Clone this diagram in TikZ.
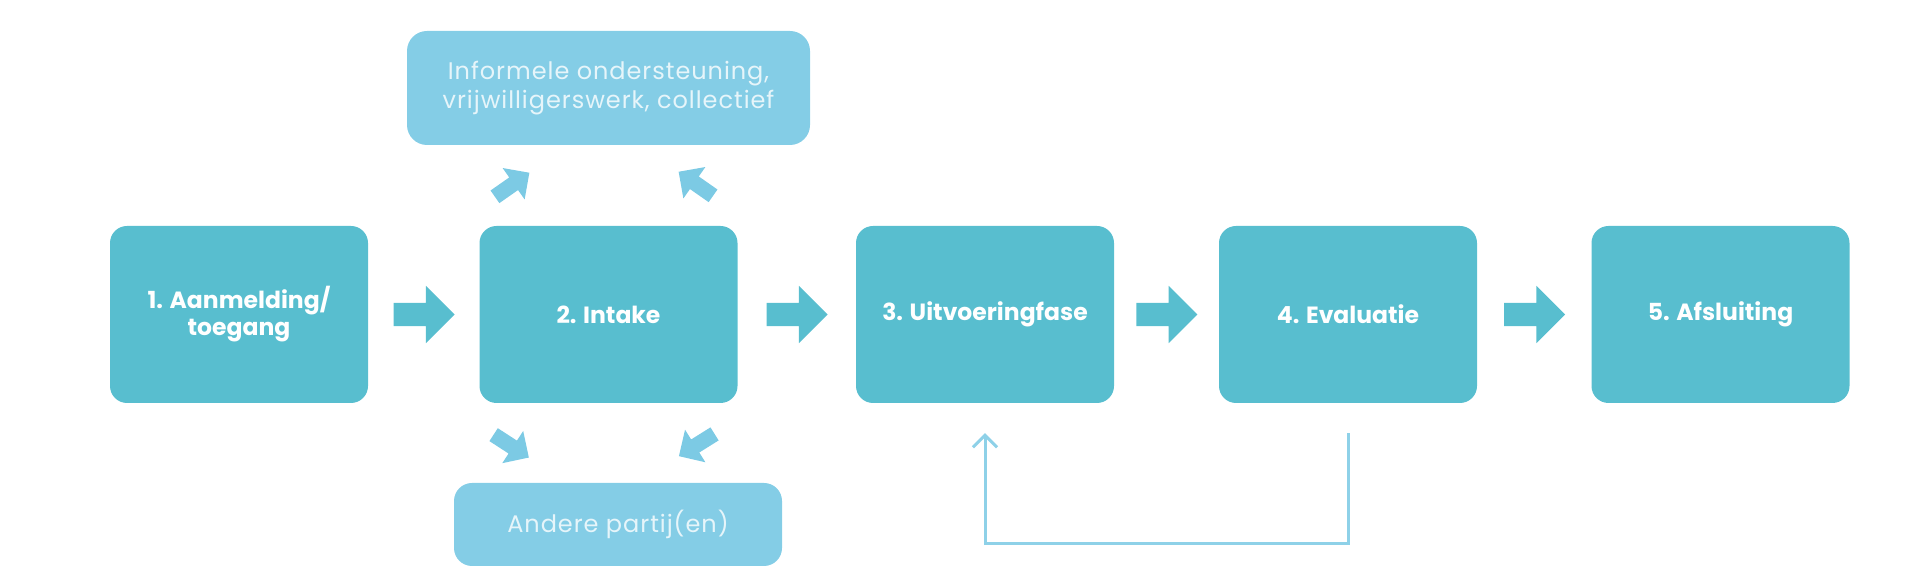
\documentclass[tikz,border=0pt]{standalone}
\usepackage{fontspec}
\setmainfont{Poppins}
\usetikzlibrary{shapes.arrows,arrows.meta,calc}
\definecolor{mainc}{HTML}{58BECF}
\definecolor{lightc}{HTML}{84CDE6}
\definecolor{sarrow}{HTML}{7CCAE4}
\definecolor{fbc}{HTML}{8ED1E8}
\definecolor{softtext}{HTML}{E6F5FA}
\begin{document}
\begin{tikzpicture}[x=1pt,y=1pt,
  mainbox/.style={fill=mainc, rounded corners=17pt, minimum width=258pt, minimum height=177pt, inner sep=0pt, text=white, font=\fontsize{23.5}{27}\selectfont\bfseries, align=center},
  sidebox/.style={fill=lightc, text=softtext, inner sep=0pt, align=center, font=\fontsize{24}{29}\selectfont\addfontfeatures{LetterSpace=4}},
  bigarrow/.style={single arrow, fill=mainc, minimum height=61pt, inner xsep=0pt, inner ysep=11.5pt, single arrow head extend=17pt},
  smallarrow/.style={single arrow, fill=sarrow, minimum height=42pt, inner xsep=0pt, inner ysep=7.5pt, single arrow head extend=11.5pt},
  feedback/.style={draw=fbc, line width=3pt}]
\useasboundingbox (0,0) rectangle (1920,580);

\node[mainbox] (b1) at (239,265.5) {1. Aanmelding/\\toegang};
\node[mainbox] (b2) at (608.5,265.5) {2. Intake};
\node[mainbox] (b3) at (985,265.5) {3. Uitvoeringfase};
\node[mainbox] (b4) at (1348,265.5) {4. Evaluatie};
\node[mainbox] (b5) at (1720.5,265.5) {5. Afsluiting};

\node[sidebox, rounded corners=20pt, minimum width=403pt, minimum height=114pt] (top) at (608.5,492) {Informele ondersteuning,\\vrijwilligerswerk, collectief};
\node[sidebox, rounded corners=18pt, minimum width=328pt, minimum height=83pt] (bot) at (618,55.5) {Andere partij(en)};

\node[bigarrow] (a12) at ($(b1.east)!0.5!(b2.west)+(-5.5,0)$) {};
\node[bigarrow] (a23) at ($(b2.east)!0.5!(b3.west)+(-5.5,0)$) {};
\node[bigarrow] (a34) at ($(b3.east)!0.5!(b4.west)+(-5.5,0)$) {};
\node[bigarrow] (a45) at ($(b4.east)!0.5!(b5.west)+(-5.5,0)$) {};

\node[smallarrow, rotate=35] (atl) at (509,393) {};
\node[smallarrow, rotate=145] (atr) at (699,394) {};
\node[smallarrow, rotate=-33] (abl) at (508,136) {};
\node[smallarrow, rotate=-148] (abr) at (700,137) {};

\coordinate (fb4) at ($(b4.south)+(0,-30)$);
\coordinate (fb3) at ($(b3.south)+(0,-30)$);
\draw[feedback, -{Straight Barb[length=12pt,width=24pt]}] (fb4) -- ++(0,-110) -| (fb3);
\end{tikzpicture}
\end{document}
